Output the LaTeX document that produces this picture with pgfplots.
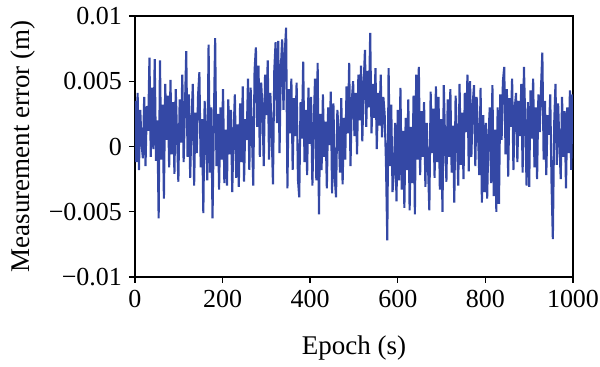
\documentclass[border=0pt]{standalone}
\usepackage{fontspec}
\setmainfont{Liberation Serif}
\usepackage{pgfplots}
\pgfplotsset{compat=1.18}
\definecolor{serie}{RGB}{52,72,165}
\begin{document}
\begin{tikzpicture}
\path[use as bounding box] (-67.5pt,-45pt) rectangle (232.5pt,138.5pt);
\begin{axis}[name=ax, at={(0pt,0pt)}, anchor=south west,
  scale only axis, width=219pt, height=130.5pt,
  xmin=0, xmax=1000, ymin=-0.01, ymax=0.01,
  xtick={0,200,400,600,800,1000},
  ytick={-0.01,-0.005,0,0.005,0.01},
  yticklabels={−0.01,−0.005,0,0.005,0.01},
  scaled y ticks=false, scaled x ticks=false,
  /pgf/number format/1000 sep={},
  /pgf/number format/assume math mode=true,
  tick align=outside, tick pos=left,
  major tick length=3pt,
  tick style={black, line width=0.7pt},
  axis line style={line width=0.7pt},
  tick label style={font=\fontsize{13}{15.5}\selectfont},
  label style={font=\fontsize{13.5}{16}\selectfont},
  xlabel={Epoch (s)}, ylabel={Measurement error (m)},
  xlabel style={yshift=-7pt},
  ylabel style={yshift=0pt},
]
\addplot[color=serie, line width=1.05pt, mark=none, line join=miter, miter limit=2] table {
x y
0 0.0035
3 -0.0012
6 0.0041
9 -0.0018
12 0.0028
15 0.0002
18 -0.0009
21 0.0038
24 -0.0015
27 0.0031
30 0.0012
33 0.0068
36 -0.0008
39 0.0045
42 -0.0002
45 0.0067
48 -0.0011
51 0.0020
54 -0.0055
57 0.0066
60 -0.0010
63 0.0032
66 -0.0040
69 0.0048
72 0.0005
75 0.0039
78 -0.0016
81 0.0051
84 -0.0006
87 0.0034
90 -0.0021
93 0.0044
96 0.0008
99 -0.0027
102 0.0036
105 0.0003
108 0.0055
111 -0.0012
114 0.0029
117 0.0073
120 -0.0008
123 0.0040
126 -0.0024
129 0.0019
132 0.0048
135 -0.0030
138 0.0026
141 -0.0005
144 0.0039
147 0.0057
150 -0.0016
153 0.0021
156 -0.0051
159 0.0035
162 0.0010
165 -0.0026
168 0.0078
171 -0.0020
174 0.0030
177 -0.0055
180 0.0018
183 0.0083
186 -0.0015
189 0.0025
192 -0.0033
195 0.0030
198 -0.0010
201 0.0044
204 -0.0028
207 0.0013
210 -0.0030
213 0.0036
216 -0.0006
219 0.0028
222 -0.0035
225 0.0009
228 0.0040
231 -0.0024
234 0.0017
237 -0.0031
240 0.0033
243 -0.0012
246 0.0046
249 -0.0027
252 0.0021
255 0.0005
258 0.0052
261 -0.0018
264 0.0045
267 0.0010
270 -0.0030
273 0.0058
276 0.0076
279 0.0015
282 0.0062
285 -0.0008
288 0.0049
291 0.0030
294 -0.0015
297 0.0055
300 0.0024
303 0.0066
306 -0.0010
309 0.0041
312 0.0012
315 -0.0029
318 0.0058
321 0.0080
324 0.0018
327 0.0081
330 -0.0005
333 0.0060
336 0.0082
339 0.0028
342 0.0072
345 0.0091
348 -0.0032
351 0.0044
354 0.0010
357 0.0052
360 -0.0018
363 0.0037
366 0.0008
369 0.0049
372 -0.0025
375 -0.0039
378 0.0034
381 0.0006
384 0.0065
387 -0.0012
390 0.0028
393 -0.0022
396 0.0045
399 0.0002
402 0.0038
405 -0.0030
408 0.0016
411 0.0052
414 -0.0026
417 0.0064
420 -0.0052
423 0.0025
426 -0.0018
429 0.0040
432 -0.0008
435 0.0019
438 -0.0032
441 0.0030
444 0.0001
447 0.0042
450 -0.0036
453 0.0033
456 -0.0024
459 -0.0039
462 0.0028
465 0.0012
468 -0.0020
471 0.0037
474 -0.0029
477 0.0022
480 -0.0010
483 0.0046
486 0.0010
489 0.0064
492 -0.0015
495 0.0035
498 0.0050
501 0.0008
504 0.0041
507 -0.0006
510 0.0055
513 0.0020
516 0.0062
519 0.0004
522 0.0047
525 0.0074
528 0.0015
531 0.0058
534 0.0030
537 0.0087
540 0.0010
543 0.0048
546 0.0022
549 0.0060
552 -0.0002
555 0.0041
558 0.0016
561 0.0055
564 0.0007
567 0.0038
570 0.0025
573 -0.0012
576 -0.0072
579 0.0060
582 -0.0015
585 0.0032
588 -0.0035
591 -0.0020
594 0.0018
597 -0.0042
600 0.0028
603 -0.0026
606 0.0045
609 -0.0033
612 0.0012
615 -0.0047
618 0.0022
621 -0.0018
624 0.0036
627 -0.0049
630 0.0015
633 -0.0028
636 0.0039
639 -0.0052
642 0.0055
645 -0.0010
648 0.0061
651 -0.0022
654 0.0027
657 -0.0008
660 0.0034
663 -0.0031
666 0.0018
669 -0.0015
672 -0.0049
675 0.0042
678 -0.0005
681 0.0029
684 -0.0024
687 0.0046
690 -0.0012
693 0.0038
696 -0.0033
699 0.0021
702 -0.0050
705 0.0047
708 0.0003
711 -0.0027
714 0.0036
717 -0.0008
720 0.0044
723 -0.0020
726 0.0016
729 -0.0043
732 0.0039
735 0.0005
738 -0.0030
741 0.0048
744 -0.0014
747 0.0026
750 -0.0025
753 0.0041
756 0.0011
759 0.0055
762 -0.0019
765 0.0050
768 -0.0008
771 0.0032
774 0.0047
777 -0.0015
780 0.0038
783 0.0012
786 -0.0022
789 0.0045
792 -0.0043
795 0.0024
798 -0.0035
801 0.0018
804 -0.0040
807 0.0008
810 0.0030
813 -0.0028
816 0.0047
819 -0.0038
822 0.0013
825 -0.0050
828 0.0030
831 -0.0044
834 0.0040
837 0.0005
840 0.0050
843 0.0061
846 -0.0006
849 0.0044
852 -0.0023
855 0.0037
858 0.0015
861 0.0052
864 -0.0018
867 0.0029
870 0.0041
873 -0.0012
876 0.0035
879 0.0008
882 0.0048
885 -0.0020
888 0.0061
891 0.0019
894 -0.0030
897 0.0034
900 -0.0031
903 0.0043
906 0.0006
909 0.0052
912 -0.0016
915 0.0030
918 -0.0025
921 0.0040
924 0.0011
927 0.0045
930 0.0072
933 -0.0010
936 0.0035
939 -0.0022
942 0.0024
945 0.0009
948 0.0040
951 -0.0028
954 -0.0071
957 0.0017
960 0.0048
963 -0.0014
966 0.0033
969 0.0002
972 -0.0025
975 0.0038
978 -0.0008
981 0.0027
984 -0.0032
987 0.0030
990 -0.0005
993 0.0043
996 -0.0018
999 0.0040
};
\end{axis}
\end{tikzpicture}
\end{document}
